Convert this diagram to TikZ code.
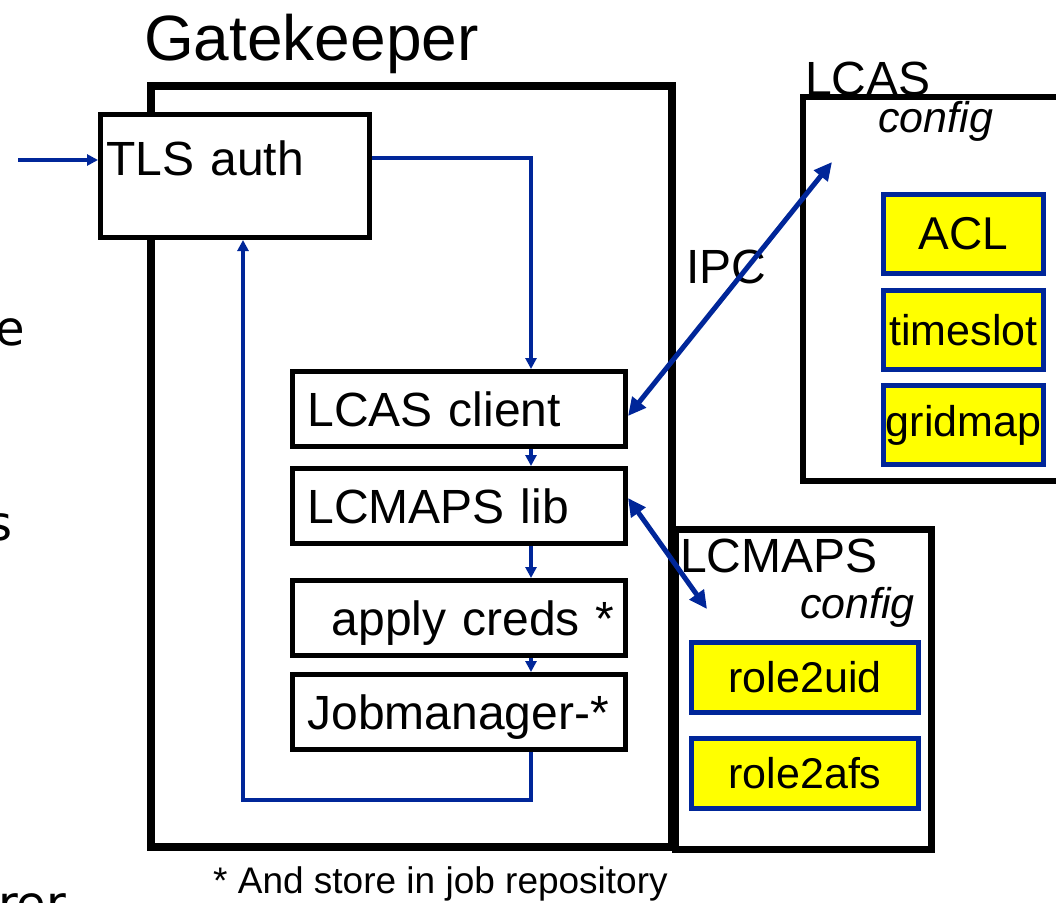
\documentclass[tikz,border=0pt]{standalone}
\usepackage{fontspec}
\setmainfont{Liberation Sans}
\newfontfamily\fragfont{DejaVu Sans}
\usepackage{xcolor}
\usetikzlibrary{arrows.meta,positioning}
\definecolor{flowblue}{RGB}{0,38,153}
\definecolor{cfgyellow}{RGB}{255,255,0}
\newcommand{\bigtxt}{\fontsize{48}{52}\selectfont}
\newcommand{\cfgtxt}{\fontsize{43}{46}\selectfont}

\begin{document}
\begin{tikzpicture}[x=1pt,y=-1pt,
	frame/.style={draw, inner sep=0pt},
	box/.style={draw, fill=white, line width=5pt, inner xsep=15pt, inner ysep=0pt, text width=303pt, align=left,
		text height=34pt, text depth=0pt, minimum height=75pt, font=\bigtxt},
	cfg/.style={draw=flowblue, fill=cfgyellow, line width=5pt, inner sep=0pt, font=\cfgtxt},
	txt/.style={inner sep=0pt, font=\bigtxt},
	flow/.style={draw=flowblue, line width=4.5pt, -{Triangle[length=11pt,width=11pt]}},
	ipc/.style={draw=flowblue, line width=5pt, {Triangle[length=18pt,width=17pt]}-{Triangle[length=18pt,width=17pt]}}]
	\useasboundingbox (0,0) rectangle (1056,902);

	% frames
	\node[frame, line width=8pt, minimum width=521pt, minimum height=761pt] (gate) at (411.5,466.5) {};
	\node[frame, line width=7pt, minimum width=256pt, minimum height=320pt] (mapscfg) at (803,689) {};
	\node[frame, line width=6pt, minimum width=300pt, minimum height=384pt] (lcascfg) at (953,289) {};

	\node[txt, anchor=base west, font=\fontsize{64}{68}\selectfont] (gatelbl) at (144,60) {Gatekeeper};
	\node[txt, anchor=base west] (lcaslbl) at (805,95) {LCAS};
	\node[txt, anchor=base west, font=\fontsize{43}{46}\selectfont\itshape] (lcascfglbl) at (878,132) {config};
	\node[txt, anchor=base west] (mapslbl) at (680,572) {LCMAPS};
	\node[txt, anchor=base east, font=\fontsize{43}{46}\selectfont\itshape] (mapscfglbl) at (915,618) {config};
	\node[txt, anchor=base west] (ipclbl) at (686,283) {IPC};

	% gatekeeper chain
	\node[box, inner xsep=6pt, text width=257pt, minimum height=123pt, text depth=36pt] (tls) at (235,176) {TLS auth};
	\node[box] (lcascl) at (459,409) {LCAS client};
	\node[box, below=17pt of lcascl] (lcmaps) {LCMAPS lib};
	\node[box, below=32pt of lcmaps, align=right, inner xsep=11pt, text width=311pt] (apply) {apply creds *};
	\node[box, below=14pt of apply] (jobmgr) {Jobmanager-*};

	% config files
	\node[cfg, minimum width=160pt, minimum height=79pt, font=\fontsize{46}{50}\selectfont] (acl) at (963.5,234) {ACL};
	\node[cfg, minimum width=160pt, minimum height=79pt, below=12pt of acl] (tslot) {timeslot};
	\node[cfg, minimum width=160pt, minimum height=79pt, below=11pt of tslot] (gmap) {gridmap};
	\node[cfg, minimum width=227pt, minimum height=70pt] (r2uid) at (805,677.5) {role2uid};
	\node[cfg, minimum width=227pt, minimum height=70pt, below=21pt of r2uid] (r2afs) {role2afs};

	\node[txt, anchor=base west, font=\fontsize{37}{40}\selectfont] (note) at (213,893) {* And store in job repository};

	% cut-off words at the left edge
	\node[txt, anchor=base east, font=\fragfont\bigtxt] (frage) at (25,345) {e};
	\node[txt, anchor=base east, font=\fragfont\bigtxt] (frags) at (13,540) {s};
	\node[txt, anchor=base west, font=\fragfont\bigtxt] (fragrer) at (-2,920) {rer};

	\coordinate (col) at (531,0);
	\coordinate (src) at (18,160);
	\coordinate (back) at (243,800);
	\coordinate (ipctip) at (832,162);
	\coordinate (mapstip) at (707,609);

	\draw[flow] (src) -- (src -| tls.west);
	\draw[flow] ([yshift=18pt]tls.east) -| (lcascl.north -| col);
	\draw[flow] (lcascl.south -| col) -- (lcmaps.north -| col);
	\draw[flow] (lcmaps.south -| col) -- (apply.north -| col);
	\draw[flow] (apply.south -| col) -- (jobmgr.north -| col);
	\draw[flow] (jobmgr.south -| col) |- (back) -- (back |- tls.south);

	\draw[ipc] ([yshift=-7pt]lcascl.east) -- (ipctip);
	\draw[ipc] ([yshift=8pt]lcmaps.east) -- (mapstip);
\end{tikzpicture}
\end{document}
